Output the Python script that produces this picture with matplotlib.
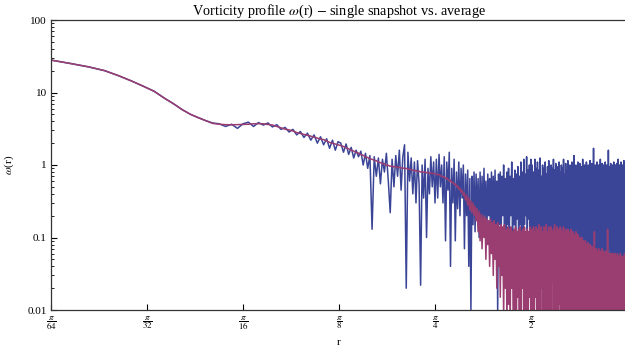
import numpy as np
import matplotlib.pyplot as plt
from matplotlib.ticker import FixedLocator, LogLocator, NullFormatter

plt.rcParams['font.family'] = ['Liberation Serif', 'DejaVu Serif']
plt.rcParams['mathtext.fontset'] = 'stix'

# --- data: omega(r) sampled on a uniform r grid from pi/64 to pi ---
# single snapshot
snap_a = [28.0, 25.0, 22.5, 20.0, 17.0, 14.4, 12.2, 10.4, 8.4, 7.0,
          5.8, 5.0, 4.5, 4.1, 3.8, 3.7, 3.4, 3.65, 3.2, 3.7]
snap_b = [3.9, 3.4, 3.85, 3.55, 3.8, 3.35, 3.6, 3.1, 3.3, 2.85,
          3.1, 2.6, 2.9, 2.4, 2.75, 2.2, 2.6, 2.0, 2.45, 1.9,
          2.3, 1.7, 2.2, 1.6, 2.1]
snap_c = [2.0, 1.5, 1.95, 1.4, 1.75, 1.25, 1.6, 1.3, 1.55, 1.0,
          1.45, 0.9, 1.35, 0.13, 1.3, 0.7, 1.25, 0.55, 1.2, 0.8,
          1.45, 0.6, 0.22, 1.2, 0.5, 1.35, 0.7, 1.6, 0.45, 1.3,
          1.9, 0.02, 1.5, 0.6, 1.25, 0.4, 1.1, 0.3, 1.15, 0.55,
          0.022, 1.0, 0.35, 1.2, 0.1, 0.9, 0.4, 1.3, 0.5, 1.1, 0.3]
snap_d = [1.2, 0.35, 1.4, 0.5, 1.0, 0.3, 1.3, 0.09, 1.1, 0.45,
          1.5, 0.04, 0.9, 0.3, 1.2, 0.09, 0.8, 0.25, 1.1, 0.2,
          0.9, 0.35, 1.0, 0.07, 0.75, 0.2, 0.85, 0.04, 0.65, 0.01,
          0.7, 0.15, 0.8, 0.12, 0.75, 0.2, 0.65, 0.1, 0.8, 0.15,
          0.7, 0.12, 0.9, 0.18, 0.6, 0.1, 0.75, 0.2, 0.65, 0.08,
          0.8, 0.15, 0.7, 0.12, 0.85, 0.1, 0.6, 0.009, 0.75, 0.15,
          0.8, 0.1, 0.7, 0.2, 1.0, 0.12, 0.65, 0.09, 0.8, 0.15,
          0.9, 0.12, 0.7, 0.2, 1.1, 0.1, 0.65, 0.15, 0.85, 0.08,
          0.75, 0.18, 0.95, 0.1, 0.7, 0.15, 1.1, 0.12, 0.8, 0.08,
          1.2, 0.15, 0.75, 0.2, 1.3, 0.1, 0.85, 0.18, 1.0, 0.12, 1.2]
snap_e = [0.1, 1.0, 0.08, 0.8, 0.12, 1.2, 0.07, 0.9, 0.012, 1.1,
          0.1, 0.85, 0.06, 1.25, 0.09, 0.7, 0.12, 1.0, 0.05, 0.9,
          0.08, 1.1, 0.11, 0.75, 0.02, 0.95, 0.07, 1.15, 0.1, 0.8,
          0.06, 1.0, 0.12, 0.9, 0.08, 1.2, 0.05, 0.85, 0.1, 1.05,
          0.09, 0.7, 0.06, 0.95, 0.12, 1.1, 0.07, 0.8, 0.01, 1.0,
          0.1, 0.9, 0.05, 1.2, 0.11, 0.75, 0.08, 1.05, 0.06, 0.85,
          0.1, 1.15, 0.07, 0.9, 0.09, 1.0, 0.05, 0.8, 0.11, 1.1,
          0.07, 0.95, 0.03, 1.35, 0.09, 0.85, 0.1, 1.0, 0.06, 0.9,
          0.08, 1.1, 0.1, 0.8, 0.05, 1.05, 0.09, 0.75, 0.07, 0.95,
          0.1, 1.2, 0.05, 0.85, 0.09, 1.0, 0.07, 0.9, 0.012, 1.1,
          0.08, 0.8, 0.06, 1.0, 0.1, 0.9, 0.07, 1.15, 0.05, 0.85,
          0.09, 1.05, 0.06, 0.95, 0.08, 1.7, 0.05, 0.8, 0.1, 1.0,
          0.06, 0.9, 0.08, 1.1, 0.04, 0.85, 0.09, 1.0, 0.06, 0.75,
          0.08, 1.2, 0.05, 0.9, 0.09, 1.05, 0.07, 0.8, 0.04, 1.0,
          0.08, 0.85, 0.06, 1.1, 0.07, 0.9, 0.015, 1.0, 0.09, 0.8,
          0.05, 1.6, 0.07, 0.95, 0.08, 0.85, 0.06, 1.05, 0.04, 0.9,
          0.07, 1.0, 0.05, 0.8, 0.08, 1.1, 0.04, 0.9, 0.07, 1.0,
          0.06, 0.85, 0.04, 1.05, 0.07, 0.9, 0.05, 1.2, 0.06, 0.8,
          0.04, 1.0, 0.07, 0.9, 0.05, 1.1, 0.01, 0.85, 0.06, 1.0,
          0.05, 0.9, 0.07, 1.15, 0.04, 0.8, 0.06, 1.0, 0.05, 0.95,
          0.06, 1.1, 0.05]

# time average
avg_a = [28.0, 25.0, 22.5, 20.0, 17.0, 14.4, 12.2, 10.4, 8.4, 7.0,
         5.8, 5.0, 4.5, 4.1, 3.75, 3.65, 3.6, 3.58, 3.6, 3.62]
avg_b = [3.65, 3.7, 3.72, 3.7, 3.62, 3.56, 3.4, 3.25, 3.12, 3.05,
         2.95, 2.8, 2.72, 2.65, 2.58, 2.5, 2.42, 2.35, 2.28, 2.24,
         2.15, 2.05, 2.0, 1.95, 1.9]
avg_c = [1.85, 1.8, 1.72, 1.67, 1.6, 1.56, 1.49, 1.46, 1.39, 1.36,
         1.29, 1.27, 1.21, 1.2, 1.16, 1.15, 1.09, 1.08, 1.04, 1.04,
         0.99, 0.99, 0.96, 0.97, 0.94, 0.95, 0.92, 0.93, 0.91, 0.91,
         0.89, 0.9, 0.87, 0.88, 0.85, 0.85, 0.83, 0.84, 0.81, 0.82,
         0.8, 0.81, 0.79, 0.8, 0.78, 0.79, 0.77, 0.78, 0.76, 0.77, 0.75]
avg_d = [0.75, 0.73, 0.74, 0.71, 0.70, 0.68, 0.69, 0.65, 0.66, 0.63,
         0.6, 0.62, 0.57, 0.58, 0.54, 0.55, 0.5, 0.52, 0.46, 0.48,
         0.42, 0.45, 0.38, 0.41, 0.33, 0.38, 0.28, 0.35, 0.24, 0.32,
         0.22, 0.3, 0.2, 0.27, 0.17, 0.25, 0.12, 0.23, 0.09, 0.21,
         0.07, 0.2, 0.1, 0.19, 0.05, 0.18, 0.08, 0.17, 0.04, 0.18,
         0.06, 0.16, 0.03, 0.17, 0.05, 0.15, 0.02, 0.16, 0.04, 0.14,
         0.015, 0.15, 0.03, 0.14, 0.008, 0.15, 0.02, 0.13, 0.006, 0.14,
         0.012, 0.13, 0.005, 0.14, 0.02, 0.12, 0.004, 0.13, 0.01, 0.14,
         0.005, 0.12, 0.015, 0.13, 0.003, 0.14, 0.008, 0.12, 0.02, 0.13,
         0.004, 0.14, 0.01, 0.12, 0.005, 0.13, 0.003, 0.12, 0.015, 0.14, 0.006]
avg_e = [0.004, 0.13, 0.006, 0.14, 0.003, 0.12, 0.015, 0.14, 0.005, 0.13,
         0.002, 0.15, 0.008, 0.13, 0.004, 0.14, 0.02, 0.12, 0.003, 0.14,
         0.006, 0.13, 0.004, 0.15, 0.01, 0.12, 0.003, 0.14, 0.007, 0.13,
         0.002, 0.14, 0.005, 0.12, 0.025, 0.13, 0.004, 0.15, 0.006, 0.12,
         0.003, 0.14, 0.008, 0.13, 0.004, 0.12, 0.012, 0.14, 0.005, 0.13,
         0.002, 0.12, 0.006, 0.14, 0.004, 0.11, 0.018, 0.13, 0.003, 0.12,
         0.007, 0.13, 0.004, 0.11, 0.002, 0.12, 0.009, 0.13, 0.005, 0.11,
         0.003, 0.12, 0.015, 0.1, 0.004, 0.11, 0.006, 0.12, 0.003, 0.1,
         0.008, 0.11, 0.004, 0.09, 0.002, 0.1, 0.012, 0.09, 0.005, 0.1,
         0.003, 0.085, 0.007, 0.09, 0.004, 0.08, 0.02, 0.09, 0.003, 0.08,
         0.006, 0.075, 0.004, 0.085, 0.002, 0.07, 0.01, 0.08, 0.005, 0.07,
         0.003, 0.075, 0.008, 0.065, 0.004, 0.07, 0.015, 0.12, 0.003, 0.065,
         0.006, 0.07, 0.002, 0.06, 0.009, 0.065, 0.004, 0.07, 0.003, 0.06,
         0.012, 0.065, 0.005, 0.06, 0.003, 0.07, 0.007, 0.055, 0.004, 0.065,
         0.002, 0.06, 0.01, 0.055, 0.004, 0.065, 0.006, 0.06, 0.003, 0.13,
         0.005, 0.06, 0.008, 0.055, 0.003, 0.06, 0.02, 0.055, 0.004, 0.06,
         0.006, 0.05, 0.003, 0.06, 0.01, 0.055, 0.004, 0.05, 0.007, 0.06,
         0.003, 0.055, 0.012, 0.05, 0.004, 0.06, 0.006, 0.05, 0.002, 0.055,
         0.008, 0.05, 0.004, 0.06, 0.015, 0.05, 0.003, 0.055, 0.006, 0.05,
         0.004, 0.055, 0.01, 0.05, 0.003, 0.06, 0.007, 0.05, 0.004, 0.055,
         0.006, 0.05, 0.003]

snapshot = snap_a + snap_b + snap_c + snap_d + snap_e
average = avg_a + avg_b + avg_c + avg_d + avg_e

r_snap = np.linspace(np.pi / 64, np.pi, len(snapshot))
r_avg = np.linspace(np.pi / 64, np.pi, len(average))

tick_pos = [np.pi / 64, np.pi / 32, np.pi / 16, np.pi / 8, np.pi / 4, np.pi / 2, np.pi]
tick_lab = [r'$\dfrac{\pi}{64}$', r'$\dfrac{\pi}{32}$', r'$\dfrac{\pi}{16}$', r'$\dfrac{\pi}{8}$',
            r'$\dfrac{\pi}{4}$', r'$\dfrac{\pi}{2}$', r'$\pi$']

# --- plot ---
fig = plt.figure(figsize=(6.25, 3.56), dpi=100)
ax = fig.add_axes([51 / 625, 46 / 356, 576 / 625, 290 / 356])

ax.plot(r_snap, snapshot, color='#3b4597', lw=1.1)
ax.plot(r_avg, average, color='#9a3d70', lw=1.1)

ax.set_xscale('log', base=2)
ax.set_yscale('log')
ax.set_xlim(np.pi / 64, np.pi)
ax.set_ylim(0.01, 100)

ax.xaxis.set_major_locator(FixedLocator(tick_pos))
ax.set_xticklabels(tick_lab, fontsize=6.5)
ax.xaxis.set_minor_locator(FixedLocator([]))
ax.set_yticks([0.01, 0.1, 1, 10, 100])
ax.set_yticklabels(['0.01', '0.1', '1', '10', '100'], fontsize=8)
ax.yaxis.set_minor_locator(LogLocator(base=10, subs=np.arange(2, 10)))
ax.yaxis.set_minor_formatter(NullFormatter())

ax.tick_params(which='major', direction='in', length=4, width=0.8, pad=3)
ax.tick_params(which='minor', direction='in', length=2, width=0.6)
ax.tick_params(top=False, right=False, which='both')
for s in ['left', 'bottom', 'top']:
    ax.spines[s].set_linewidth(0.9)
    ax.spines[s].set_color('#333333')
ax.spines['right'].set_visible(False)

ax.set_title(r'Vorticity profile $\omega$(r) $-$ single snapshot vs. average', fontsize=10.3, pad=4)
ax.set_xlabel('r', fontsize=8, labelpad=4)
ax.set_ylabel(r'$\omega$(r)', fontsize=8, labelpad=8)

fig.savefig('out.png', dpi=100)
